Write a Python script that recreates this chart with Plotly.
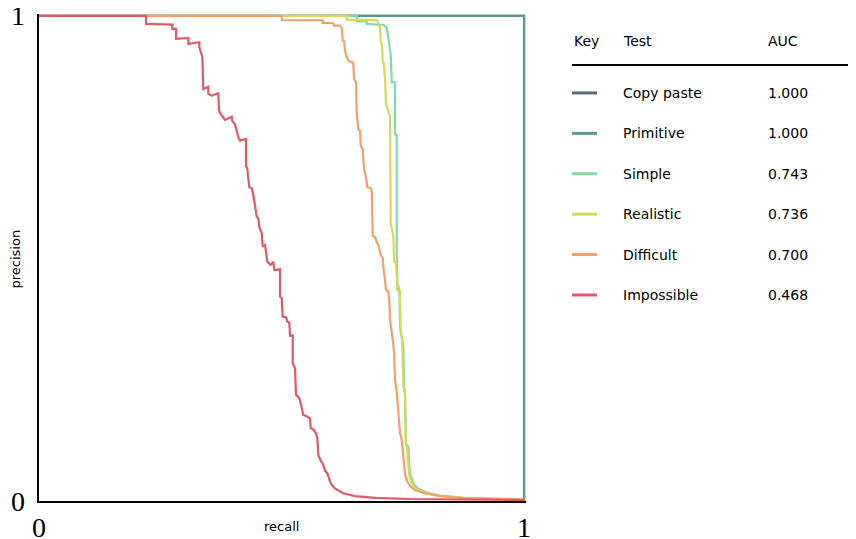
import plotly.graph_objects as go

# ---------------- data ----------------
tests = ["Copy paste", "Primitive", "Simple", "Realistic", "Difficult", "Impossible"]
auc_labels = ["1.000", "1.000", "0.743", "0.736", "0.700", "0.468"]
colors = ["#5b6675", "#5a9898", "#82dca2", "#d8d85c", "#f5a06c", "#e05a63"]
axis_ticks = [0, 1]
axis_tick_text = ["0", "1"]

copy_recall = [0.0, 1.0, 1.0]
copy_precision = [1.0, 1.0, 0.0]

prim_recall = [0.0, 1.0, 1.0]
prim_precision = [1.0, 1.0, 0.0]

simple_recall = [0.0, 0.6551, 0.6551, 0.6757, 0.6757, 0.7099, 0.7169, 0.7202, 0.7251, 0.7272,
                 0.7340, 0.7340, 0.7375, 0.7375, 0.7388, 0.7429, 0.7443, 0.7478, 0.7512, 0.7526,
                 0.7546, 0.7567, 0.7615, 0.7635, 0.7660, 0.771, 0.781, 0.800, 0.827, 0.878, 0.940, 1.0]
simple_precision = [1.0, 1.0, 0.9890, 0.9890, 0.9835, 0.9814, 0.9767, 0.9526, 0.9196, 0.8633,
                    0.8633, 0.7567, 0.7532, 0.5093, 0.4489, 0.4351, 0.3594, 0.3388, 0.3181, 0.2357,
                    0.2151, 0.1190, 0.1120, 0.0707, 0.0536, 0.037, 0.0258, 0.0175, 0.0113, 0.0066, 0.0043, 0.0033]

real_recall = [0.0, 0.6344, 0.6344, 0.6963, 0.7017, 0.7031, 0.7045, 0.7072, 0.7087, 0.7113,
               0.7134, 0.7155, 0.7181, 0.7202, 0.7237, 0.7251, 0.7305, 0.7320, 0.7361, 0.7388,
               0.7443, 0.7458, 0.7485, 0.7512, 0.7546, 0.7561, 0.7588, 0.7608, 0.7629, 0.767,
               0.775, 0.790, 0.816, 0.868, 0.940, 1.0]
real_precision = [1.0, 1.0, 0.9918, 0.9918, 0.9800, 0.9753, 0.9458, 0.9423, 0.9045, 0.9010,
                  0.8701, 0.8171, 0.8118, 0.8014, 0.7944, 0.5711, 0.5470, 0.4934, 0.4901, 0.4351,
                  0.4330, 0.3464, 0.3320, 0.2357, 0.2289, 0.1196, 0.1093, 0.0722, 0.0557, 0.039,
                  0.0268, 0.0186, 0.0113, 0.0066, 0.0041, 0.003]

diff_recall = [0.0, 0.5004, 0.5004, 0.5849, 0.5849, 0.6068, 0.6082, 0.6206, 0.6241, 0.6262,
               0.6289, 0.6309, 0.6344, 0.6377, 0.6447, 0.6480, 0.6495, 0.6536, 0.6551, 0.6584,
               0.6619, 0.6633, 0.6674, 0.6701, 0.6742, 0.6769, 0.6839, 0.6860, 0.6881, 0.6928,
               0.6963, 0.6996, 0.7045, 0.7087, 0.7099, 0.7113, 0.7134, 0.7155, 0.7202, 0.7223,
               0.7237, 0.7272, 0.7293, 0.7320, 0.7340, 0.7375, 0.7388, 0.7429, 0.7443, 0.7478,
               0.7499, 0.7511, 0.7526, 0.7546, 0.7588, 0.765, 0.775, 0.796, 0.827, 0.878, 0.940, 1.0]
diff_precision = [1.0, 1.0, 0.9911, 0.9911, 0.9856, 0.9849, 0.9800, 0.9800, 0.9753, 0.9491,
                  0.9478, 0.9285, 0.9149, 0.9078, 0.9045, 0.9025, 0.8701, 0.8633, 0.7979, 0.7670,
                  0.7635, 0.7326, 0.7258, 0.6845, 0.6674, 0.6468, 0.6454, 0.6365, 0.5470, 0.5437,
                  0.5334, 0.5278, 0.5072, 0.5004, 0.4831, 0.4728, 0.4557, 0.4351, 0.4316, 0.4109,
                  0.3732, 0.3526, 0.3320, 0.3045, 0.2495, 0.2254, 0.2082, 0.1602, 0.1396, 0.1258,
                  0.1052, 0.0913, 0.0707, 0.0557, 0.0412, 0.031, 0.0227, 0.0155, 0.0103, 0.0062, 0.0041, 0.003]

imp_recall = [0.0, 0.2206, 0.2206, 0.2748, 0.2748, 0.2825, 0.2825, 0.3078, 0.3078, 0.3305,
              0.3305, 0.3340, 0.3367, 0.3388, 0.3491, 0.3491, 0.3561, 0.3697, 0.3711, 0.3746,
              0.3788, 0.3835, 0.3973, 0.3986, 0.4041, 0.4076, 0.4109, 0.4144, 0.4268, 0.4268,
              0.4295, 0.4336, 0.4386, 0.4419, 0.4454, 0.4489, 0.4522, 0.4542, 0.4592, 0.4612,
              0.4660, 0.4680, 0.4707, 0.4777, 0.4831, 0.4852, 0.4969, 0.4969, 0.5004, 0.5025,
              0.5093, 0.5120, 0.5161, 0.5175, 0.5231, 0.5231, 0.5278, 0.5299, 0.5346, 0.5381,
              0.5416, 0.5449, 0.5505, 0.5588, 0.5602, 0.5656, 0.5711, 0.5738, 0.5759, 0.5808,
              0.5849, 0.5897, 0.5944, 0.598, 0.602, 0.610, 0.627, 0.652, 0.693, 0.765, 0.868, 1.0]
imp_precision = [1.0, 1.0, 0.9835, 0.9821, 0.9732, 0.9732, 0.9526, 0.9546, 0.9423, 0.9458,
                 0.9355, 0.9243, 0.9161, 0.8495, 0.8542, 0.8392, 0.8357, 0.8406, 0.8047, 0.7979,
                 0.7911, 0.7856, 0.7924, 0.7829, 0.7773, 0.7602, 0.7499, 0.7429, 0.7464, 0.6913,
                 0.6845, 0.6468, 0.6447, 0.6309, 0.6103, 0.5862, 0.5829, 0.5656, 0.5520, 0.5243,
                 0.5278, 0.5140, 0.4934, 0.4866, 0.4934, 0.4763, 0.4777, 0.4212, 0.4179, 0.3800,
                 0.3788, 0.3697, 0.3676, 0.3402, 0.3416, 0.2839, 0.2736, 0.2186, 0.2151, 0.2082,
                 0.1876, 0.1773, 0.1753, 0.1705, 0.1499, 0.1478, 0.1396, 0.1293, 0.0948, 0.0831,
                 0.0777, 0.0625, 0.0571, 0.047, 0.035, 0.026, 0.016, 0.010, 0.0066, 0.0041, 0.0027, 0.002]

series_recall = [copy_recall, prim_recall, simple_recall, real_recall, diff_recall, imp_recall]
series_precision = [copy_precision, prim_precision, simple_precision, real_precision, diff_precision, imp_precision]

# ---------------- layout geometry ----------------
# The page body has an 8px default margin, so figure coordinates are shifted by it.
OFF = 8
W_PX, H_PX = 856, 539
PAD = 0.004
L = 39 - OFF
UNIT = 485
PLOT_W = UNIT * (1 + PAD)
R = W_PX - L - PLOT_W
BOTTOM = 501 - OFF
B = H_PX - BOTTOM
T = BOTTOM - PLOT_W


def px_x(px):
    """reference page pixel -> paper x"""
    return (px - OFF - L) / PLOT_W


def px_y(py):
    """reference page pixel -> paper y"""
    return (BOTTOM - (py - OFF)) / PLOT_W


fig = go.Figure()
for name, rx, py_, col in zip(tests, series_recall, series_precision, colors):
    fig.add_trace(go.Scatter(x=rx, y=py_, mode="lines", name=name,
                             line=dict(color=col, width=2.2), hoverinfo="skip",
                             showlegend=False))

serif = "Liberation Serif, DejaVu Serif, serif"
sans = "DejaVu Sans, sans-serif"

fig.update_xaxes(range=[0, 1 + PAD], tickvals=axis_ticks, showticklabels=False,
                 showgrid=False, zeroline=False, showline=True, linecolor="black",
                 linewidth=2, ticks="", automargin=False)
fig.update_yaxes(range=[0, 1 + PAD], tickvals=axis_ticks, showticklabels=False,
                 showgrid=False, zeroline=False, showline=True, linecolor="black",
                 linewidth=2, ticks="", automargin=False)

annotations = [
    dict(text="recall", x=px_x(281.5), y=px_y(526), xref="paper", yref="paper",
         showarrow=False, font=dict(family=sans, size=13, color="black"),
         xanchor="center", yanchor="middle"),
    dict(text="precision", x=px_x(15), y=px_y(258.5), xref="paper", yref="paper",
         showarrow=False, textangle=-90, font=dict(family=sans, size=13, color="black"),
         xanchor="center", yanchor="middle"),
]
# serif tick labels placed at the axis values, beside the axes
for v, t in zip(axis_ticks, axis_tick_text):
    annotations.append(dict(text=t, x=v, xref="x", y=px_y(527), yref="paper",
                            showarrow=False, xanchor="center", yanchor="middle",
                            font=dict(family=serif, size=28, color="black")))
    annotations.append(dict(text=t, x=px_x(18), xref="paper", y=v, yref="y",
                            showarrow=False, xanchor="center", yanchor="middle",
                            font=dict(family=serif, size=28, color="black")))
shapes = []

# table-style key
header_y = 41
for txt, xp in zip(["Key", "Test", "AUC"], [572, 621, 766]):
    annotations.append(dict(text=txt, x=px_x(xp), y=px_y(header_y), xref="paper", yref="paper",
                            showarrow=False, xanchor="left", yanchor="middle",
                            font=dict(family=sans, size=14, color="black")))
shapes.append(dict(type="line", xref="paper", yref="paper",
                   x0=px_x(572), x1=px_x(856), y0=px_y(65), y1=px_y(65),
                   line=dict(color="black", width=2)))

row_y0, row_dy = 93, 40.4
for i, (name, auc, col) in enumerate(zip(tests, auc_labels, colors)):
    yy = row_y0 + i * row_dy
    shapes.append(dict(type="line", xref="paper", yref="paper",
                       x0=px_x(572), x1=px_x(597), y0=px_y(yy), y1=px_y(yy),
                       line=dict(color=col, width=3)))
    annotations.append(dict(text=name, x=px_x(621), y=px_y(yy), xref="paper", yref="paper",
                            showarrow=False, xanchor="left", yanchor="middle",
                            font=dict(family=sans, size=14, color="black")))
    annotations.append(dict(text=auc, x=px_x(766), y=px_y(yy), xref="paper", yref="paper",
                            showarrow=False, xanchor="left", yanchor="middle",
                            font=dict(family=sans, size=14, color="black")))

fig.update_layout(width=W_PX, height=H_PX,
                  margin=dict(l=L, r=R, t=T, b=B, pad=0, autoexpand=False),
                  plot_bgcolor="white", paper_bgcolor="white",
                  annotations=annotations, shapes=shapes, showlegend=False)

fig.write_html("out.html")
